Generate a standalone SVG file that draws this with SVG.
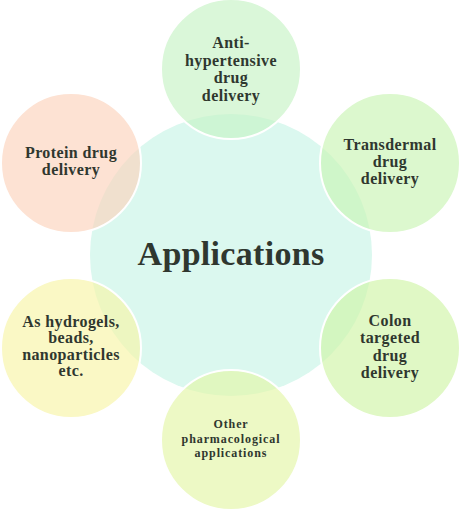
<svg xmlns="http://www.w3.org/2000/svg" width="461" height="510" viewBox="0 0 461 510">
<style>
.sat{stroke:#ffffff;stroke-width:2;fill-opacity:0.65}
.t{font-family:"Liberation Serif","Times New Roman",serif;font-weight:bold;fill:#2f372f;text-anchor:middle;font-size:16px;letter-spacing:0.4px}
.s{font-size:12px;letter-spacing:0.9px}
.big{font-size:34px;letter-spacing:0.3px}
</style>
<rect width="461" height="510" fill="#ffffff"/>
<g id="center">
<circle cx="231" cy="255" r="141" fill="#dbf8ef"/>
</g>
<g id="connectors"></g>
<g id="n-top">
<circle class="sat" cx="231" cy="69" r="70" fill="#c6f2c4"/>
<text class="t" x="231" y="48">Anti-</text>
<text class="t" x="231" y="66">hypertensive</text>
<text class="t" x="231" y="83">drug</text>
<text class="t" x="231" y="101">delivery</text>
</g>
<g id="n-topright">
<circle class="sat" cx="390" cy="163" r="70" fill="#caf4b4"/>
<text class="t" x="390" y="150">Transdermal</text>
<text class="t" x="390" y="167">drug</text>
<text class="t" x="390" y="184">delivery</text>
</g>
<g id="n-bottomright">
<circle class="sat" cx="390" cy="348" r="70" fill="#cff5a6"/>
<text class="t" x="390" y="326">Colon</text>
<text class="t" x="390" y="343">targeted</text>
<text class="t" x="390" y="361">drug</text>
<text class="t" x="390" y="378">delivery</text>
</g>
<g id="n-bottom">
<circle class="sat" cx="231" cy="440" r="70" fill="#e4f6a6"/>
<text class="t s" x="231" y="428">Other</text>
<text class="t s" x="231" y="443">pharmacological</text>
<text class="t s" x="231" y="457">applications</text>
</g>
<g id="n-bottomleft">
<circle class="sat" cx="71" cy="348" r="70" fill="#f7f5a6"/>
<text class="t" x="71" y="327">As hydrogels,</text>
<text class="t" x="71" y="343">beads,</text>
<text class="t" x="71" y="360">nanoparticles</text>
<text class="t" x="71" y="376">etc.</text>
</g>
<g id="n-topleft">
<circle class="sat" cx="71" cy="163" r="70" fill="#fcd3bb"/>
<text class="t" x="71" y="158">Protein drug</text>
<text class="t" x="71" y="175">delivery</text>
</g>
<g id="label-center">
<text class="t big" x="231" y="265">Applications</text>
</g>
</svg>
